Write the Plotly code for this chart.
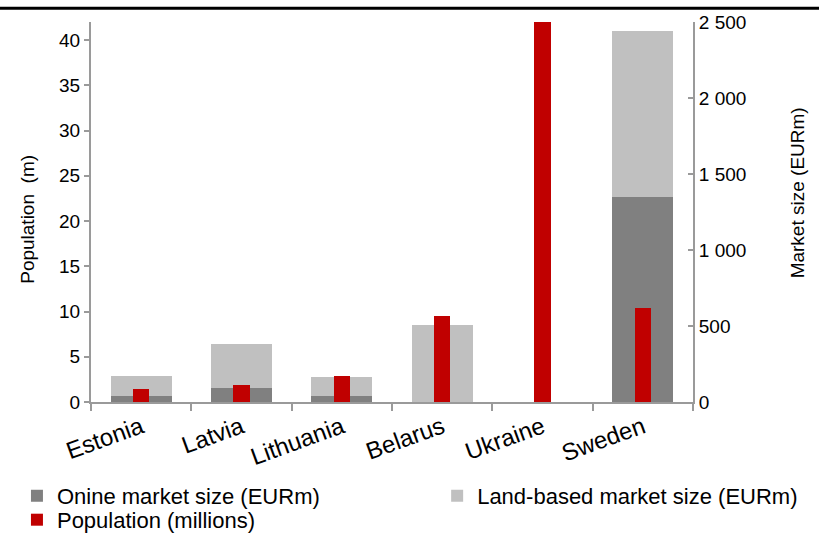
import plotly.graph_objects as go

countries = ["Estonia", "Latvia", "Lithuania", "Belarus", "Ukraine", "Sweden"]
online_market = [41, 94, 41, 0, 0, 1350]
land_market = [130, 285, 121, 506, 0, 1090]
population = [1.4, 1.9, 2.9, 9.5, 42, 10.4]

market_ticks = [0, 500, 1000, 1500, 2000, 2500]
market_ticktext = ["0", "500", "1 000", "1 500", "2 000", "2 500"]
pop_ticks = [0, 5, 10, 15, 20, 25, 30, 35, 40]

FONT = "Liberation Sans, Arial, sans-serif"
AXIS = "#9a9a9a"

fig = go.Figure()
fig.add_trace(go.Bar(
    x=countries, y=online_market, name="Onine market size (EURm)",
    marker=dict(color="#808080", line=dict(width=0)), width=0.61, yaxis="y",
    legend="legend"))
fig.add_trace(go.Bar(
    x=countries, y=land_market, name="Land-based market size (EURm)",
    marker=dict(color="#c0c0c0", line=dict(width=0)), width=0.61, yaxis="y",
    legend="legend2"))
fig.add_trace(go.Bar(
    x=countries, y=population, name="Population (millions)",
    marker=dict(color="#c00000", line=dict(width=0)), width=0.16, yaxis="y2",
    legend="legend3"))

legend_common = dict(orientation="v", xanchor="left", yanchor="top", font=dict(size=22),
                     traceorder="normal", tracegroupgap=0, itemclick=False,
                     bgcolor="rgba(0,0,0,0)")

fig.update_layout(
    width=819, height=537,
    margin=dict(l=91, r=126, t=22, b=135, autoexpand=False),
    paper_bgcolor="white", plot_bgcolor="white",
    barmode="stack",
    font=dict(family=FONT, size=19, color="black"),
    showlegend=True,
    legend=dict(x=-0.123, y=-0.192, **legend_common),
    legend2=dict(x=0.575, y=-0.192, **legend_common),
    legend3=dict(x=-0.123, y=-0.255, **legend_common),
    xaxis=dict(
        domain=[0, 1], showline=True, linecolor=AXIS, linewidth=2,
        ticks="outside", tickson="boundaries", ticklen=7, tickcolor=AXIS, tickwidth=2,
        tickangle=-20, tickfont=dict(size=24), showgrid=False, zeroline=False),
    yaxis=dict(
        side="right", range=[0, 2500], tickvals=market_ticks, ticktext=market_ticktext,
        showline=True, linecolor=AXIS, linewidth=2, ticks="inside", ticklen=5,
        tickcolor=AXIS, tickwidth=2, showgrid=False, zeroline=False,
        tickfont=dict(size=19)),
    yaxis2=dict(
        overlaying="y", side="left", range=[0, 42], tickvals=pop_ticks,
        showline=True, linecolor=AXIS, linewidth=2, ticks="outside", ticklen=5,
        tickcolor=AXIS, tickwidth=2, showgrid=False, zeroline=False,
        tickfont=dict(size=19)),
    annotations=[
        dict(text="Population  (m)", xref="paper", yref="paper",
             x=-0.106, y=0.48, textangle=-90, showarrow=False,
             xanchor="center", yanchor="middle", font=dict(size=19)),
        dict(text="Market size (EURm)", xref="paper", yref="paper",
             x=1.175, y=0.55, textangle=-90, showarrow=False,
             xanchor="center", yanchor="middle", font=dict(size=19)),
    ],
    shapes=[dict(type="line", xref="paper", yref="paper",
                 x0=-0.16, x1=1.22, y0=1.036, y1=1.036,
                 line=dict(color="black", width=3))],
)

fig.write_html("out.html", config={"displayModeBar": False},
               post_script="document.body.style.margin='0';")
